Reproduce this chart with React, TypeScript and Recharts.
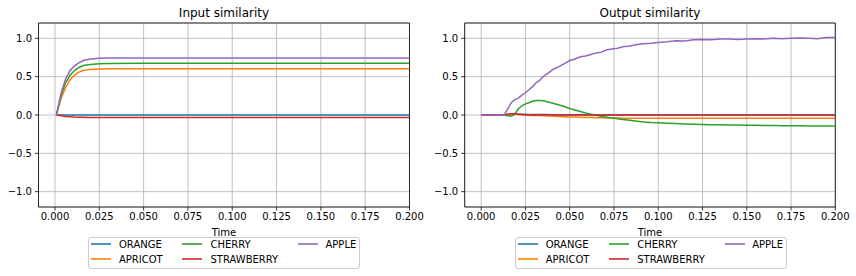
import React from "react";
import {
  LineChart,
  Line,
  XAxis,
  YAxis,
  CartesianGrid,
  ReferenceArea,
} from "recharts";

// series names + matplotlib tab10 colours
const seriesNames = ["ORANGE", "APRICOT", "CHERRY", "STRAWBERRY", "APPLE"];
const seriesColors = ["#1f77b4", "#ff7f0e", "#2ca02c", "#d62728", "#9467bd"];

const xTicks = [0, 0.025, 0.05, 0.075, 0.1, 0.125, 0.15, 0.175, 0.2];
const yTicks = [-1, -0.5, 0, 0.5, 1];

// Input similarity
const inputTime = [0.0008, 0.0035, 0.006, 0.0085, 0.011, 0.0135, 0.016, 0.02, 0.025, 0.03, 0.05, 0.1, 0.15, 0.2];
const inputOrange = [0, 0, 0, 0, 0, 0, 0, 0, 0, 0, 0, 0, 0, 0];
const inputApricot = [0, 0.22, 0.36, 0.46, 0.52, 0.56, 0.58, 0.595, 0.6, 0.603, 0.604, 0.604, 0.604, 0.604];
const inputCherry = [0, 0.26, 0.42, 0.52, 0.58, 0.62, 0.645, 0.66, 0.67, 0.673, 0.674, 0.674, 0.674, 0.674];
const inputStrawberry = [0, -0.01, -0.018, -0.023, -0.027, -0.029, -0.03, -0.031, -0.031, -0.031, -0.031, -0.031, -0.031, -0.031];
const inputApple = [0, 0.29, 0.47, 0.58, 0.64, 0.68, 0.71, 0.73, 0.74, 0.743, 0.744, 0.744, 0.744, 0.744];

// Output similarity
const outputTime = [
  0, 0.005, 0.01, 0.013, 0.015, 0.017, 0.019, 0.021, 0.023, 0.025, 0.027, 0.029, 0.031, 0.033, 0.035, 0.038,
  0.041, 0.044, 0.047, 0.05, 0.053, 0.056, 0.059, 0.062, 0.065, 0.068, 0.071, 0.074, 0.077, 0.08, 0.084, 0.088,
  0.092, 0.096, 0.1, 0.105, 0.11, 0.115, 0.12, 0.125, 0.13, 0.135, 0.14, 0.145, 0.15, 0.155, 0.16, 0.165, 0.17,
  0.175, 0.18, 0.185, 0.19, 0.195, 0.2,
];
const outputOrange = [
  0, 0, 0, 0, 0.005, 0.008, 0.01, 0.01, 0.01, 0.009, 0.008, 0.008, 0.007, 0.006, 0.006, 0.005,
  0.004, 0.004, 0.003, 0.003, 0.002, 0.002, 0.001, 0.001, 0, 0, 0, 0, 0, 0, 0, 0,
  0, 0, 0, 0, 0, 0, 0, 0, 0, 0, 0, 0, 0, 0, 0, 0, 0,
  0, 0, 0, 0, 0, 0,
];
const outputApricot = [
  0, 0, 0, 0, 0.01, 0.015, 0.012, 0.008, 0.004, 0, -0.003, -0.005, -0.006, -0.008, -0.01, -0.013,
  -0.016, -0.019, -0.022, -0.025, -0.027, -0.029, -0.031, -0.033, -0.035, -0.037, -0.038, -0.039, -0.04, -0.041, -0.042, -0.042,
  -0.042, -0.043, -0.043, -0.043, -0.043, -0.043, -0.043, -0.043, -0.043, -0.044, -0.044, -0.044, -0.044, -0.044, -0.044, -0.044, -0.044,
  -0.044, -0.044, -0.044, -0.044, -0.044, -0.044,
];
const outputCherry = [
  0, 0, 0, 0, -0.01, -0.015, 0.01, 0.08, 0.12, 0.145, 0.16, 0.18, 0.19, 0.19, 0.185, 0.17,
  0.15, 0.13, 0.11, 0.085, 0.065, 0.045, 0.025, 0.01, -0.005, -0.02, -0.03, -0.04, -0.05, -0.06, -0.07, -0.08,
  -0.09, -0.097, -0.1, -0.107, -0.112, -0.117, -0.12, -0.123, -0.126, -0.128, -0.13, -0.132, -0.134, -0.135, -0.137, -0.138, -0.139,
  -0.14, -0.141, -0.142, -0.143, -0.144, -0.145,
];
const outputStrawberry = [
  0, 0, 0, 0, 0.01, 0.015, 0.015, 0.01, 0.005, 0.002, 0, 0, 0, 0, 0, 0,
  0, 0, 0, 0, 0, 0, 0, 0, 0, 0, 0, 0, 0, 0, 0, 0,
  0, 0, 0, 0, 0, 0, 0, 0, 0, 0, 0, 0, 0, 0, 0, 0, 0,
  0, 0, 0, 0, 0, 0,
];
const outputApple = [
  0, 0, 0, 0, 0.08, 0.16, 0.2, 0.22, 0.26, 0.29, 0.33, 0.37, 0.42, 0.45, 0.5, 0.55,
  0.6, 0.63, 0.67, 0.71, 0.73, 0.76, 0.77, 0.79, 0.81, 0.82, 0.85, 0.86, 0.87, 0.89, 0.9, 0.92,
  0.93, 0.935, 0.945, 0.955, 0.97, 0.965, 0.98, 0.985, 0.98, 0.99, 0.99, 0.985, 0.99, 0.995, 0.99, 1.0, 0.995,
  1.0, 1.005, 1.0, 0.995, 1.01, 1.01,
];

const xMin = -0.0093;
const font = "'DejaVu Sans', sans-serif";

function buildRows(time: number[], series: number[][]) {
  return time.map((t, i) => {
    const row: Record<string, number> = { t };
    seriesNames.forEach((name, k) => {
      row[name] = series[k][i];
    });
    return row;
  });
}

const inputRows = buildRows(inputTime, [inputOrange, inputApricot, inputCherry, inputStrawberry, inputApple]);
const outputRows = buildRows(outputTime, [outputOrange, outputApricot, outputCherry, outputStrawberry, outputApple]);

const fmtY = (v: number) => v.toFixed(1).replace("-", "\u2212");
const fmtX = (v: number) => v.toFixed(3);

type PanelProps = {
  left: number;
  yWidth: number;
  right: number;
  title: string;
  rows: Record<string, number>[];
  legendLeft: number;
};

function Panel({ left, yWidth, right, title, rows, legendLeft }: PanelProps) {
  const plotLeft = yWidth;
  const plotRight = 428 - right;
  return (
    <div style={{ position: "absolute", left, top: 0, width: 428, height: 276, fontFamily: font }}>
      <div
        style={{
          position: "absolute",
          left: plotLeft,
          width: plotRight - plotLeft,
          top: 5,
          textAlign: "center",
          fontSize: 12,
          lineHeight: "16px",
          color: "#000",
        }}
      >
        {title}
      </div>
      <LineChart
        width={428}
        height={276}
        data={rows}
        margin={{ top: 23, right, bottom: 39, left: 0 }}
        style={{ fontFamily: font }}
      >
        <CartesianGrid stroke="#b0b0b0" strokeWidth={0.8} />
        <XAxis
          dataKey="t"
          type="number"
          domain={[xMin, 0.2]}
          ticks={xTicks}
          tickFormatter={fmtX}
          allowDataOverflow
          height={30}
          axisLine={false}
          tickSize={3.5}
          tickMargin={2}
          tickLine={{ stroke: "#000", strokeWidth: 0.8 }}
          tick={{ fill: "#000", fontSize: 10 }}
          label={{ value: "Time", position: "insideBottom", offset: 1, fill: "#000", fontSize: 10 }}
        />
        <YAxis
          type="number"
          domain={[-1.2, 1.2]}
          ticks={yTicks}
          tickFormatter={fmtY}
          allowDataOverflow
          width={yWidth}
          axisLine={false}
          tickSize={3.5}
          tickMargin={3}
          tickLine={{ stroke: "#000", strokeWidth: 0.8 }}
          tick={{ fill: "#000", fontSize: 10 }}
        />
        {seriesNames.map((name, k) => (
          <Line
            key={name}
            dataKey={name}
            type="linear"
            stroke={seriesColors[k]}
            strokeWidth={1.5}
            dot={false}
            activeDot={false}
            isAnimationActive={false}
          />
        ))}
        <ReferenceArea
          x1={xMin}
          x2={0.2}
          y1={-1.2}
          y2={1.2}
          fill="none"
          fillOpacity={0}
          stroke="#000"
          strokeWidth={0.8}
          strokeOpacity={1}
        />
      </LineChart>
      <Legend left={legendLeft} />
    </div>
  );
}

const legendCols = [
  { handle: 3, label: 31, items: [0, 1] },
  { handle: 93.5, label: 122.5, items: [2, 3] },
  { handle: 209.5, label: 237.5, items: [4] },
];
const legendRowTop = [5, 20];

function Legend({ left }: { left: number }) {
  return (
    <div
      style={{
        position: "absolute",
        left,
        top: 237,
        width: 272,
        height: 32,
        border: "1px solid #cccccc",
        borderRadius: 3,
        background: "rgba(255,255,255,0.8)",
        boxSizing: "border-box",
        fontSize: 10,
        color: "#000",
      }}
    >
      {legendCols.map((col) =>
        col.items.map((idx, row) => (
          <React.Fragment key={idx}>
            <div
              style={{
                position: "absolute",
                left: Math.round(col.handle - 1),
                top: legendRowTop[row],
                width: 20,
                height: 2,
                background: seriesColors[idx],
                opacity: 0.8,
              }}
            />
            <div
              style={{
                position: "absolute",
                left: col.label - 1,
                top: legendRowTop[row] - 5.5,
                lineHeight: "13px",
                whiteSpace: "nowrap",
              }}
            >
              {seriesNames[idx]}
            </div>
          </React.Fragment>
        ))
      )}
    </div>
  );
}

export default function App() {
  return (
    <div style={{ position: "absolute", left: 0, top: 0, width: 856, height: 276, background: "#fff" }}>
      <Panel left={0} yWidth={38.5} right={18.5} title="Input similarity" rows={inputRows} legendLeft={88} />
      <Panel left={428} yWidth={36.7} right={20.7} title="Output similarity" rows={outputRows} legendLeft={86.7} />
    </div>
  );
}
